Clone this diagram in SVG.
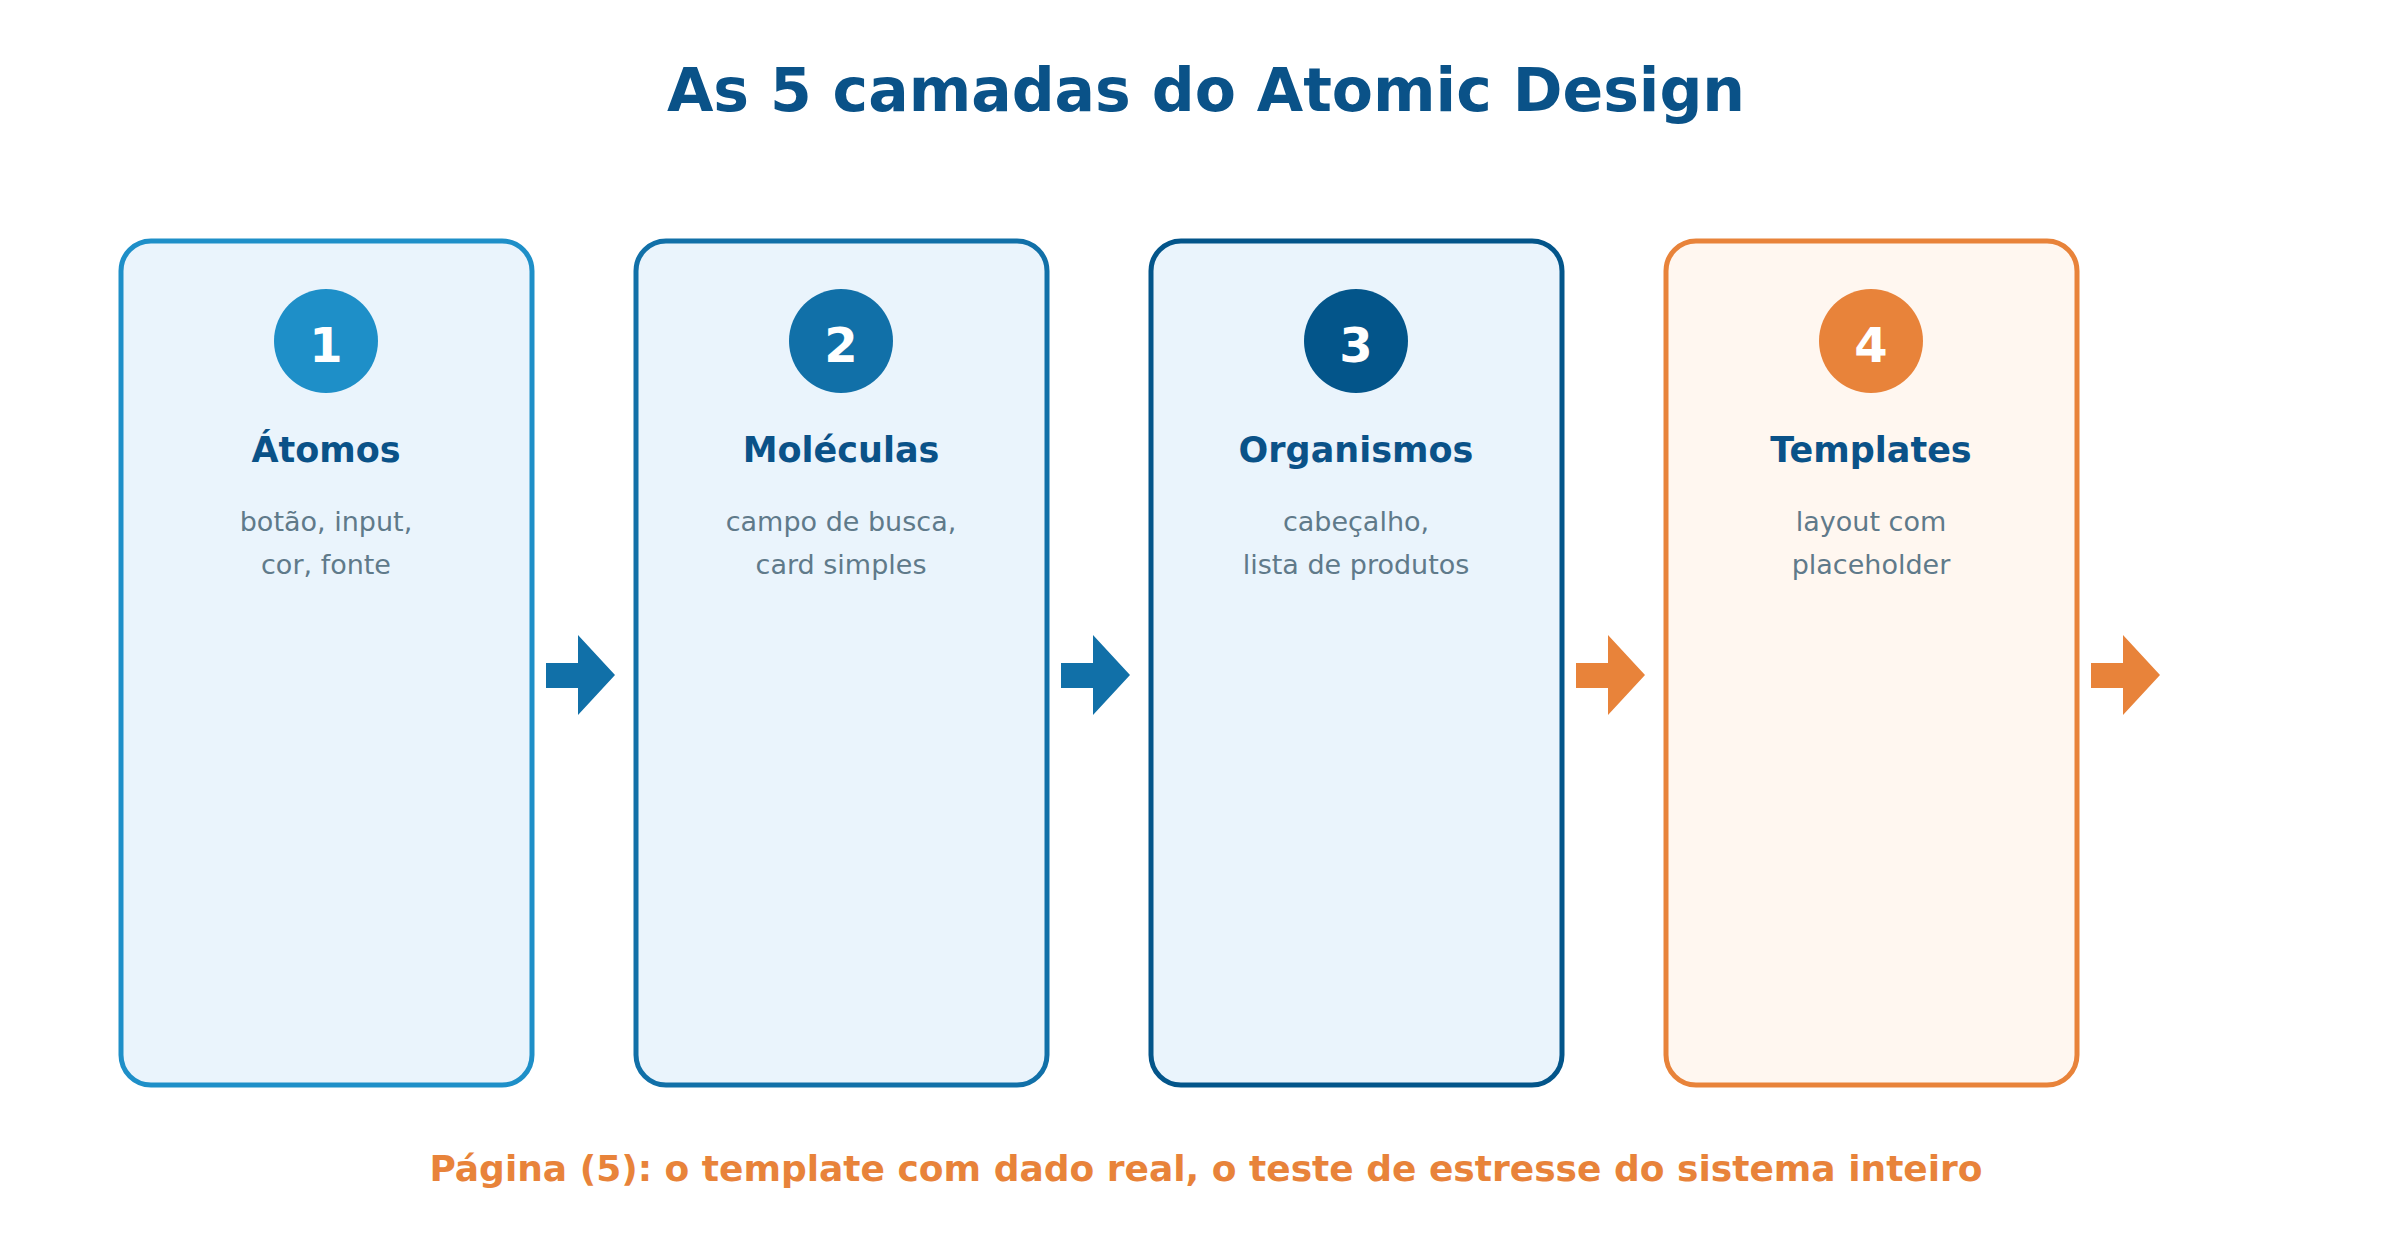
<svg xmlns="http://www.w3.org/2000/svg" width="2400" height="1240" viewBox="0 0 2400 1240">
<style>
text{font-family:"DejaVu Sans",sans-serif;text-anchor:middle}
.box{stroke-width:5}
.num{font-size:48px;font-weight:bold;fill:#fff}
.ttl{font-size:35px;font-weight:bold;fill:#0a5288}
.desc{font-size:27px;fill:#5f7a8a}
</style>
<rect width="2400" height="1240" fill="#fff"/>
<text x="1206" y="111" font-size="60" font-weight="bold" fill="#0a5288">As 5 camadas do Atomic Design</text>
<g id="n1"><rect class="box" x="121" y="241" width="411" height="844" rx="30" fill="#eaf4fc" stroke="#1e8fc8"/><circle cx="326" cy="341" r="52" fill="#1e8fc8"/><text class="num" x="326" y="362">1</text><text class="ttl" x="326" y="462">Átomos</text><text class="desc" x="326" y="531">botão, input,</text><text class="desc" x="326" y="574">cor, fonte</text></g>
<g id="n2"><rect class="box" x="636" y="241" width="411" height="844" rx="30" fill="#eaf4fc" stroke="#1170a8"/><circle cx="841" cy="341" r="52" fill="#1170a8"/><text class="num" x="841" y="362">2</text><text class="ttl" x="841" y="462">Moléculas</text><text class="desc" x="841" y="531">campo de busca,</text><text class="desc" x="841" y="574">card simples</text></g>
<g id="n3"><rect class="box" x="1151" y="241" width="411" height="844" rx="30" fill="#eaf4fc" stroke="#03558a"/><circle cx="1356" cy="341" r="52" fill="#03558a"/><text class="num" x="1356" y="362">3</text><text class="ttl" x="1356" y="462">Organismos</text><text class="desc" x="1356" y="531">cabeçalho,</text><text class="desc" x="1356" y="574">lista de produtos</text></g>
<g id="n4"><rect class="box" x="1666" y="241" width="411" height="844" rx="30" fill="#fff7f0" stroke="#e8833a"/><circle cx="1871" cy="341" r="52" fill="#e8833a"/><text class="num" x="1871" y="362">4</text><text class="ttl" x="1871" y="462">Templates</text><text class="desc" x="1871" y="531">layout com</text><text class="desc" x="1871" y="574">placeholder</text></g>
<g id="connectors">
<path d="M546 663H578V635L615 675L578 715V688H546Z" fill="#1170a8"/>
<path d="M1061 663H1093V635L1130 675L1093 715V688H1061Z" fill="#1170a8"/>
<path d="M1576 663H1608V635L1645 675L1608 715V688H1576Z" fill="#e8833a"/>
<path d="M2091 663H2123V635L2160 675L2123 715V688H2091Z" fill="#e8833a"/>
</g>
<text x="1206" y="1181" font-size="36" font-weight="bold" fill="#e8833a">Página (5): o template com dado real, o teste de estresse do sistema inteiro</text>
</svg>
